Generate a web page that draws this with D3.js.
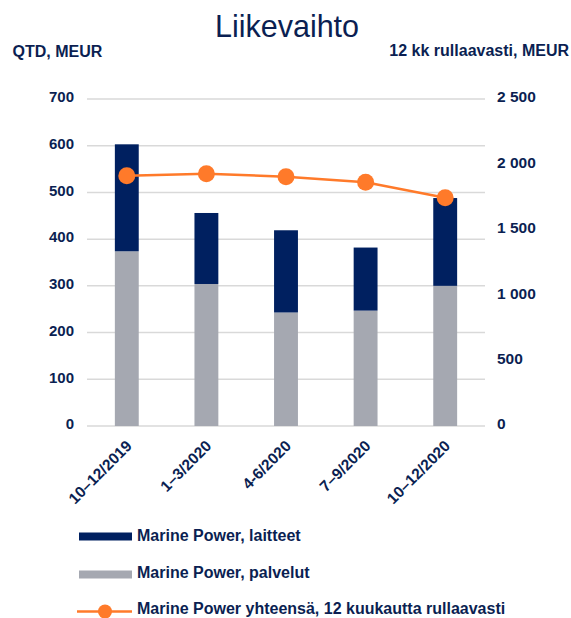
<!DOCTYPE html>
<html><head><meta charset="utf-8">
<script src="https://cdn.jsdelivr.net/npm/d3@7"></script>
<style>body{margin:0;background:#fff}svg{display:block}text{font-family:"Liberation Sans",Arial,sans-serif}</style>
</head><body><svg id="c" width="571" height="618"></svg>
<script>
const categories = ["10\u201312/2019","1\u20133/2020","4-6/2020","7\u20139/2020","10\u201312/2020"];
const palvelut = [374, 304, 243, 247, 300];
const laitteet = [229, 152, 176, 135, 188];
const rolling = [1913, 1929, 1906, 1863, 1745];
const leftTicks = [0,100,200,300,400,500,600,700];
const rightTicks = [0,500,1000,1500,2000,2500];
const rightTickLabels = ["0","500","1 000","1 500","2 000","2 500"];
const seriesNames = ["Marine Power, laitteet","Marine Power, palvelut","Marine Power yhteensä, 12 kuukautta rullaavasti"];

const navy="#002060", grey="#A5A8B1", orange="#FF7A2A", txt="#0B1F52", gridC="#D9D9D9";
const svg=d3.select("#c");
const L=87,R=485,T=99,B=426;
const x=d3.scaleBand().domain(categories).range([L,R]).paddingInner(0.7).paddingOuter(0.35);
const yL=d3.scaleLinear().domain([0,700]).range([B,T]);
const yR=d3.scaleLinear().domain([0,2500]).range([B,T]);

svg.append("text").attr("x",287).attr("y",37).attr("text-anchor","middle").attr("font-size",30.5).attr("fill",txt).text("Liikevaihto");
svg.append("text").attr("x",12.5).attr("y",57).attr("font-size",16).attr("font-weight","bold").attr("fill",txt).text("QTD, MEUR");
svg.append("text").attr("x",569).attr("y",56).attr("text-anchor","end").attr("font-size",16).attr("font-weight","bold").attr("fill",txt).text("12 kk rullaavasti, MEUR");

// gridlines
svg.append("g").selectAll("line").data(leftTicks).join("line")
 .attr("x1",L).attr("x2",R).attr("y1",d=>yL(d)).attr("y2",d=>yL(d)).attr("stroke",gridC).attr("stroke-width",1.5);

// axes
const gl=svg.append("g").attr("transform",`translate(${L-13},-2)`).call(d3.axisLeft(yL).tickValues(leftTicks).tickSize(0).tickPadding(0));
gl.select(".domain").remove();
gl.selectAll("text").attr("font-size",15).attr("font-weight","bold").attr("fill",txt).attr("font-family","Liberation Sans, Arial, sans-serif");
const gr=svg.append("g").attr("transform",`translate(${R+12},-2)`).call(d3.axisRight(yR).tickValues(rightTicks).tickFormat((d,i)=>rightTickLabels[i]).tickSize(0).tickPadding(0));
gr.select(".domain").remove();
gr.selectAll("text").attr("font-size",15.5).attr("font-weight","bold").attr("fill",txt).attr("font-family","Liberation Sans, Arial, sans-serif");

// bars
const stacked=categories.map((c,i)=>({c,p:palvelut[i],l:laitteet[i]}));
svg.append("g").selectAll("rect").data(stacked).join("rect")
 .attr("x",d=>x(d.c)).attr("width",x.bandwidth()).attr("y",d=>yL(d.p)).attr("height",d=>yL(0)-yL(d.p)).attr("fill",grey);
svg.append("g").selectAll("rect").data(stacked).join("rect")
 .attr("x",d=>x(d.c)).attr("width",x.bandwidth()).attr("y",d=>yL(d.p+d.l)).attr("height",d=>yL(d.p)-yL(d.p+d.l)).attr("fill",navy);

// line
const cx=c=>x(c)+x.bandwidth()/2;
svg.append("path").datum(rolling).attr("fill","none").attr("stroke",orange).attr("stroke-width",2.5)
 .attr("d",d3.line().x((d,i)=>cx(categories[i])).y(d=>yR(d)));
svg.append("g").selectAll("circle").data(rolling).join("circle")
 .attr("cx",(d,i)=>cx(categories[i])).attr("cy",d=>yR(d)).attr("r",8.5).attr("fill",orange);

// x labels
svg.append("g").selectAll("text").data(categories).join("text")
 .attr("transform",d=>`translate(${cx(d)+6},${B+21}) rotate(-45)`)
 .attr("text-anchor","end").attr("font-size",15.5).attr("font-weight","bold").attr("fill",txt).text(d=>d);

// legend
const lg=svg.append("g");
const ly=[536.5,574.5,611.5];
lg.append("rect").attr("x",79).attr("y",ly[0]-4).attr("width",53).attr("height",8).attr("fill",navy);
lg.append("rect").attr("x",79).attr("y",ly[1]-4).attr("width",53).attr("height",8).attr("fill",grey);
lg.append("line").attr("x1",77).attr("x2",132).attr("y1",ly[2]).attr("y2",ly[2]).attr("stroke",orange).attr("stroke-width",2.5);
lg.append("circle").attr("cx",105).attr("cy",ly[2]).attr("r",7).attr("fill",orange);
lg.selectAll("text.l").data(seriesNames).join("text").attr("class","l")
 .attr("x",137).attr("y",(d,i)=>[541,578,614][i]).attr("font-size",16).attr("font-weight","bold").attr("fill",txt).text(d=>d);
</script></body></html>
